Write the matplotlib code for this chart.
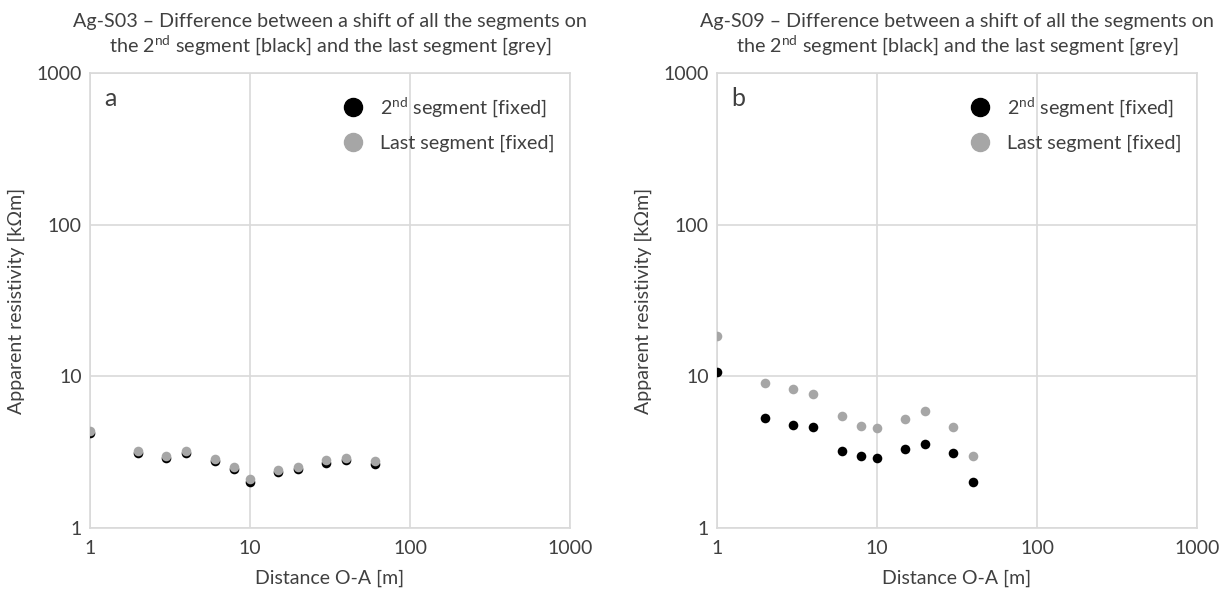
import matplotlib
matplotlib.use("Agg")
import matplotlib.pyplot as plt
from matplotlib.ticker import FixedLocator, FixedFormatter, NullLocator

plt.rcParams['font.family'] = ['Lato', 'DejaVu Sans']
plt.rcParams['font.weight'] = 'normal'
plt.rcParams['mathtext.fontset'] = 'custom'
plt.rcParams['mathtext.rm'] = 'Lato'

# distances O-A [m]
dist_s03 = [1, 2, 3, 4, 6, 8, 10, 15, 20, 30, 40, 60]
# apparent resistivity [kOhm m], Ag-S03
s03_second = [4.2, 3.1, 2.9, 3.1, 2.75, 2.45, 2.0, 2.35, 2.45, 2.7, 2.8, 2.65]
s03_last = [4.35, 3.2, 3.0, 3.2, 2.85, 2.52, 2.1, 2.43, 2.53, 2.8, 2.88, 2.76]

dist_s09 = [1, 2, 3, 4, 6, 8, 10, 15, 20, 30, 40]
s09_second = [10.6, 5.3, 4.75, 4.6, 3.2, 3.0, 2.9, 3.3, 3.6, 3.1, 2.0]
s09_last = [18.4, 9.0, 8.2, 7.7, 5.45, 4.7, 4.55, 5.2, 5.95, 4.6, 3.0]

panels = [
    ("a", "Ag-S03", dist_s03, s03_second, s03_last),
    ("b", "Ag-S09", dist_s09, s09_second, s09_last),
]

ticks = [1, 10, 100, 1000]
tick_labels = ["1", "10", "100", "1000"]
txt = '#404040'
grid_c = '#d9d9d9'
black = '#000000'
grey = '#a6a6a6'
fs = 14

fig = plt.figure(figsize=(12.27, 5.95), dpi=100)
W, H = 1227, 595
lefts = [90, 717]
for (tag, name, x, y2, ylast), lpx in zip(panels, lefts):
    ax = fig.add_axes([lpx / W, (H - 528) / H, 480 / W, 455 / H])
    ax.scatter(x, y2, s=48, color=black, zorder=3, linewidths=0)
    ax.scatter(x, ylast, s=48, color=grey, zorder=4, linewidths=0)
    ax.set_xscale('log')
    ax.set_yscale('log')
    ax.set_xlim(1, 1000)
    ax.set_ylim(1, 1000)
    ax.xaxis.set_major_locator(FixedLocator(ticks))
    ax.xaxis.set_major_formatter(FixedFormatter(tick_labels))
    ax.yaxis.set_major_locator(FixedLocator(ticks))
    ax.yaxis.set_major_formatter(FixedFormatter(tick_labels))
    ax.xaxis.set_minor_locator(NullLocator())
    ax.yaxis.set_minor_locator(NullLocator())
    ax.grid(True, color=grid_c, linewidth=1.2, zorder=0)
    for sp in ax.spines.values():
        sp.set_color(grid_c)
        sp.set_linewidth(1.2)
    ax.tick_params(length=0, labelsize=fs, labelcolor=txt)
    ax.tick_params(axis='x', pad=9)
    ax.tick_params(axis='y', pad=6)
    ax.set_xlabel("Distance O-A [m]", fontsize=fs, color=txt, labelpad=9)
    ax.set_ylabel("Apparent resistivity [k\u03a9m]", fontsize=fs, color=txt, labelpad=8)

    xc = (lpx + 240) / W
    fig.text(xc, 1 - 27 / H,
             name + " \u2013 Difference between a shift of all the segments on",
             ha='center', va='baseline', fontsize=14.2, color=txt)
    fig.text(xc, 1 - 52.5 / H,
             "the 2$^{\\mathrm{nd}}$ segment [black] and the last segment [grey]",
             ha='center', va='baseline', fontsize=14.2, color=txt)

    ax.text(0.03, 0.945, tag, transform=ax.transAxes, fontsize=18,
            color=txt, va='center', ha='left')
    ax.plot([], [], 'o', color=black, markersize=13, label="2$^{\\mathrm{nd}}$ segment [fixed]")
    ax.plot([], [], 'o', color=grey, markersize=13, label="Last segment [fixed]")
    leg = ax.legend(loc='upper right', frameon=False, fontsize=14.2,
                    bbox_to_anchor=(1.005, 0.99), handlelength=1.0,
                    handletextpad=0.9, labelspacing=0.75, borderaxespad=0.5)
    for t in leg.get_texts():
        t.set_color(txt)

fig.savefig("out.png", dpi=100)
